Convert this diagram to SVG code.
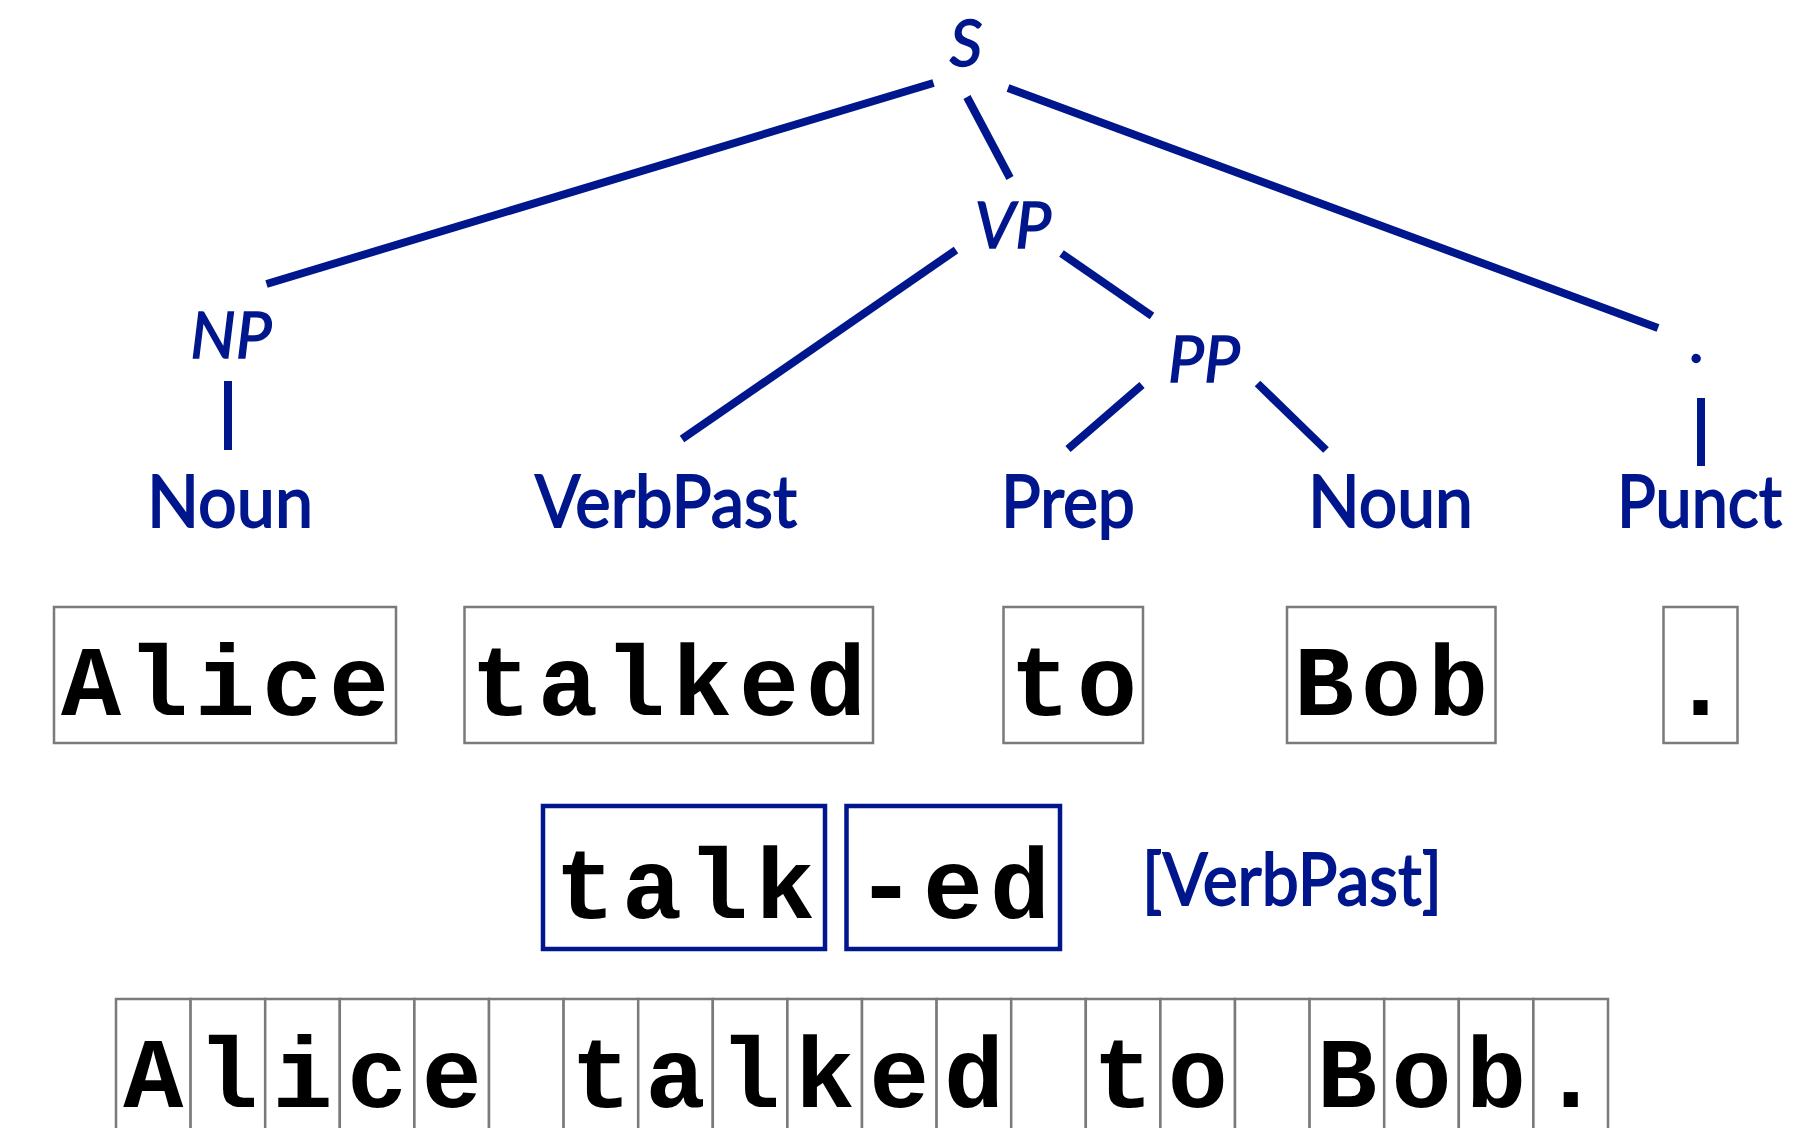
<svg xmlns="http://www.w3.org/2000/svg" width="1794" height="1128" viewBox="0 0 1794 1128">
  <style>
    .edge { stroke: #00168c; stroke-width: 8; stroke-linecap: butt; fill: none; }
    .cat { font-family: Lato, "Open Sans", "Liberation Sans", sans-serif; font-size: 72px; fill: #00168c; stroke: #00168c; stroke-width: 1.8; }
    .phr { font-family: Lato, "Open Sans", "Liberation Sans", sans-serif; font-size: 64px; font-style: italic; fill: #00168c; stroke: #00168c; stroke-width: 1.4; text-anchor: middle; }
    .tok { fill: #ffffff; stroke: #7a7a7a; stroke-width: 2.5; }
    .morph { fill: #ffffff; stroke: #00168c; stroke-width: 4.5; }
    .mono { font-family: "Liberation Mono", "DejaVu Sans Mono", monospace; font-size: 100px; font-weight: bold; fill: #000000; text-anchor: middle; }
  </style>

  <rect x="0" y="0" width="1794" height="1128" fill="#ffffff"/>

  <!-- tree edges -->
  <g id="connectors">
    <line class="edge" x1="933.5" y1="83" x2="266.5" y2="284"/>
    <line class="edge" x1="967" y1="97" x2="1010" y2="178"/>
    <line class="edge" x1="1008" y1="88" x2="1658" y2="328"/>
    <line class="edge" x1="228" y1="381" x2="228" y2="450"/>
    <line class="edge" x1="956" y1="250" x2="682" y2="439"/>
    <line class="edge" x1="1061.5" y1="253.5" x2="1152" y2="316"/>
    <line class="edge" x1="1142" y1="385" x2="1068" y2="449"/>
    <line class="edge" x1="1257.5" y1="383.5" x2="1326" y2="450"/>
    <line class="edge" x1="1701" y1="398" x2="1701" y2="466"/>
  </g>

  <!-- phrase nodes -->
  <g id="node-S"><text class="phr" x="966" y="66">S</text></g>
  <g id="node-VP"><text class="phr" x="1013" y="248">VP</text></g>
  <g id="node-NP"><text class="phr" x="231" y="358">NP</text></g>
  <g id="node-PP"><text class="phr" x="1204" y="382">PP</text></g>
  <g id="node-period"><text class="phr" x="1698" y="362">.</text></g>

  <!-- part-of-speech nodes -->
  <g id="node-noun-1"><text class="cat" x="147" y="527" textLength="166" lengthAdjust="spacingAndGlyphs">Noun</text></g>
  <g id="node-verbpast"><text class="cat" x="535" y="527" textLength="262" lengthAdjust="spacingAndGlyphs">VerbPast</text></g>
  <g id="node-prep"><text class="cat" x="1001" y="527" textLength="134" lengthAdjust="spacingAndGlyphs">Prep</text></g>
  <g id="node-noun-2"><text class="cat" x="1308" y="527" textLength="165" lengthAdjust="spacingAndGlyphs">Noun</text></g>
  <g id="node-punct"><text class="cat" x="1617" y="527" textLength="165" lengthAdjust="spacingAndGlyphs">Punct</text></g>

  <!-- word tokens -->
  <g id="tok-alice">
    <rect class="tok" x="54" y="607" width="342" height="136"/>
    <text class="mono" x="91 158 225 292 359" y="715">Alice</text>
  </g>
  <g id="tok-talked">
    <rect class="tok" x="464.5" y="607" width="408.5" height="136"/>
    <text class="mono" x="501 568 635 702 769 836" y="715">talked</text>
  </g>
  <g id="tok-to">
    <rect class="tok" x="1003.5" y="607" width="139.5" height="136"/>
    <text class="mono" x="1040 1107" y="715">to</text>
  </g>
  <g id="tok-bob">
    <rect class="tok" x="1287" y="607" width="208.5" height="136"/>
    <text class="mono" x="1324 1391 1458" y="715">Bob</text>
  </g>
  <g id="tok-period">
    <rect class="tok" x="1663.5" y="607" width="74" height="136"/>
    <text class="mono" x="1700.5" y="715">.</text>
  </g>

  <!-- morphemes of "talked" -->
  <g id="morph-talk">
    <rect class="morph" x="543" y="806" width="282" height="143"/>
    <text class="mono" x="585 652 718 785" y="918">talk</text>
  </g>
  <g id="morph-ed">
    <rect class="morph" x="846.5" y="806" width="213.5" height="143"/>
    <text class="mono" x="886 953 1020" y="918">-ed</text>
  </g>
  <g id="morph-tag"><text class="cat" x="1142" y="905" textLength="300" lengthAdjust="spacingAndGlyphs">[VerbPast]</text></g>

  <!-- character cells -->
  <g id="chars">
    <g class="tok">
      <rect x="116" y="999" width="74.6" height="140"/>
      <rect x="190.6" y="999" width="74.6" height="140"/>
      <rect x="265.2" y="999" width="74.6" height="140"/>
      <rect x="339.8" y="999" width="74.6" height="140"/>
      <rect x="414.4" y="999" width="74.6" height="140"/>
      <rect x="489" y="999" width="74.6" height="140"/>
      <rect x="563.6" y="999" width="74.6" height="140"/>
      <rect x="638.2" y="999" width="74.6" height="140"/>
      <rect x="712.8" y="999" width="74.6" height="140"/>
      <rect x="787.4" y="999" width="74.6" height="140"/>
      <rect x="862" y="999" width="74.6" height="140"/>
      <rect x="936.6" y="999" width="74.6" height="140"/>
      <rect x="1011.2" y="999" width="74.6" height="140"/>
      <rect x="1085.8" y="999" width="74.6" height="140"/>
      <rect x="1160.4" y="999" width="74.6" height="140"/>
      <rect x="1235" y="999" width="74.6" height="140"/>
      <rect x="1309.6" y="999" width="74.6" height="140"/>
      <rect x="1384.2" y="999" width="74.6" height="140"/>
      <rect x="1458.8" y="999" width="74.6" height="140"/>
      <rect x="1533.4" y="999" width="74.6" height="140"/>
    </g>
    <text class="mono" x="153.3 227.9 302.5 377.1 451.7" y="1107">Alice</text>
    <text class="mono" x="600.9 675.5 750.1 824.7 899.3 973.9" y="1107">talked</text>
    <text class="mono" x="1123.1 1197.7" y="1107">to</text>
    <text class="mono" x="1346.9 1421.5 1496.1 1570.7" y="1107">Bob.</text>
  </g>
</svg>
